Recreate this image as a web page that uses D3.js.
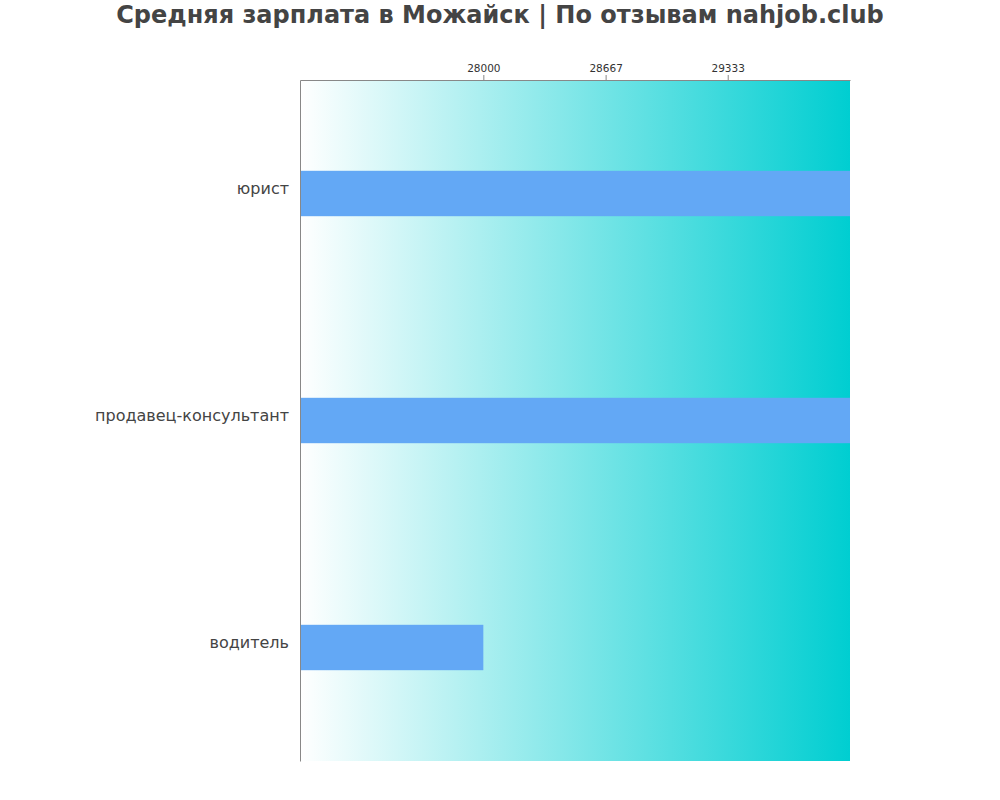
<!DOCTYPE html>
<html><head><meta charset="utf-8">
<script src="https://cdn.jsdelivr.net/npm/d3@7"></script>
<style>body{margin:0;background:#fff;} text{font-family:"DejaVu Sans",sans-serif;}</style>
</head><body>
<svg id="c" width="1000" height="800"></svg>
<script>
const categories = ["юрист", "продавец-консультант", "водитель"];
const values = [30000, 30000, 28000];
const tickValues = [28000, 28667, 29333];
const tickLabels = ["28000", "28667", "29333"];
const titleText = "Средняя зарплата в Можайск | По отзывам nahjob.club";

const svg = d3.select("#c");
const m = {left: 300, right: 150, top: 80, bottom: 39};
const W = 1000 - m.left - m.right, H = 800 - m.top - m.bottom;

const defs = svg.append("defs");
const grad = defs.append("linearGradient").attr("id", "bg").attr("x1", "0%").attr("x2", "100%").attr("y1", "0%").attr("y2", "0%");
grad.append("stop").attr("offset", "0%").attr("stop-color", "#ffffff");
grad.append("stop").attr("offset", "100%").attr("stop-color", "#00ced1");

const x = d3.scaleLinear().domain([27000, 30000]).range([0, W]);
const y = d3.scaleBand().domain(categories).range([0, H]).paddingInner(0.8).paddingOuter(0.4);

svg.append("text").attr("x", 500).attr("y", 23).attr("text-anchor", "middle")
  .attr("font-size", 24).attr("font-weight", "bold").attr("fill", "#444").text(titleText);

const g = svg.append("g").attr("transform", `translate(${m.left},${m.top})`);
g.append("rect").attr("width", W).attr("height", H).attr("fill", "url(#bg)");

g.selectAll(".bar").data(categories).enter().append("rect")
  .attr("x", 0).attr("y", d => y(d)).attr("height", y.bandwidth())
  .attr("width", (d, i) => x(values[i]) - x.range()[0])
  .attr("fill", "#63a8f5");

const xAxis = d3.axisTop(x).tickValues(tickValues).tickFormat((d, i) => tickLabels[i]).tickSize(5).tickSizeOuter(0);
const xa = g.append("g").call(xAxis);
xa.select(".domain").attr("stroke", "#888");
xa.selectAll(".tick line").attr("stroke", "#888");
xa.selectAll(".tick text").attr("fill", "#333").attr("font-size", 10.5).attr("font-family", "DejaVu Sans, sans-serif");

const yAxis = d3.axisLeft(y).tickSize(0).tickPadding(11);
const ya = g.append("g").call(yAxis);
ya.select(".domain").attr("stroke", "#888");
ya.selectAll(".tick text").attr("fill", "#444").attr("font-size", 16).attr("dy", "0.05em").attr("font-family", "DejaVu Sans, sans-serif");
</script>
</body></html>
